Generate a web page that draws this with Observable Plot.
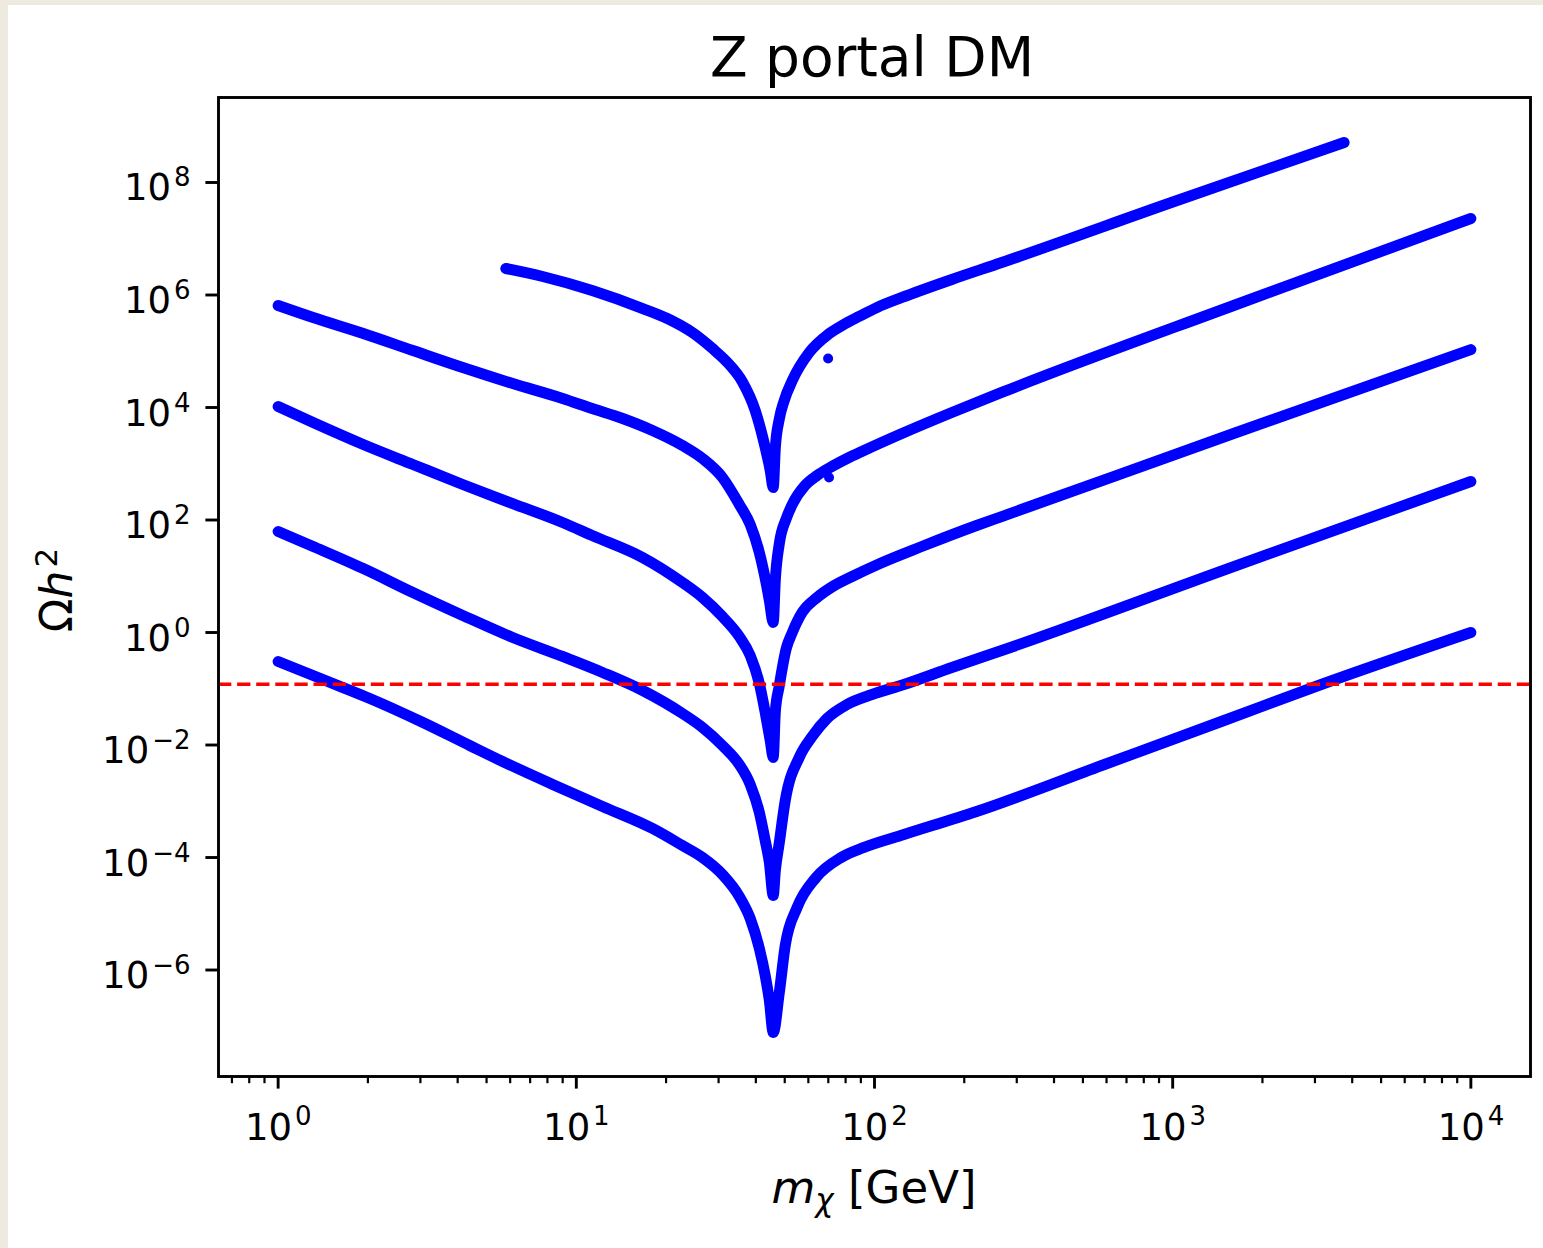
<!DOCTYPE html>
<html>
<head>
<meta charset="utf-8">
<script src="https://cdn.jsdelivr.net/npm/d3@7"></script>
<script src="https://cdn.jsdelivr.net/npm/@observablehq/plot@0.6"></script>
<style>
html, body { margin: 0; padding: 0; }
body { background: #eeeae0; width: 1543px; height: 1248px; overflow: hidden; position: relative; }
#fig { position: absolute; left: 8px; top: 5px; width: 1535px; height: 1243px; background: #ffffff; font-family: "DejaVu Sans", sans-serif; }
#title { position: absolute; left: 464px; width: 800px; top: 25px; text-align: center; font-size: 55px; line-height: 54px; color: #000; white-space: nowrap; }
#chart { position: absolute; left: 0; top: 85px; }
</style>
</head>
<body>
<div id="fig">
  <div id="title">Z portal DM</div>
  <div id="chart"></div>
</div>
<script>
// ---- Data (m_chi in GeV, Omega h^2) ----
const massA  = [5.80, 7.71, 11.3, 16.7, 20.2, 24.5, 28.6, 32.6, 36.0, 39.8, 43.0, 44.7, 45.75, 46.5, 47.9, 49.8, 53.0, 60.4, 69.9, 77.9, 88.8, 102, 123.6, 181.7, 267, 990, 3757];
const omegaA = [2.96e6, 2.13e6, 1.20e6, 5.75e5, 3.82e5, 2.15e5, 1.12e5, 5.81e4, 2.90e4, 8.85e3, 1.94e3, 759, 378, 1.94e3, 6.12e3, 1.33e4, 3.02e4, 9.50e4, 1.99e5, 2.87e5, 4.15e5, 6.00e5, 9.03e5, 1.89e6, 3.78e6, 4.41e7, 5.14e8];

const massB  = [1.00, 1.31, 1.93, 2.83, 4.16, 6.12, 8.99, 11.3, 14.3, 18.0, 22.7, 26.5, 30.9, 35.2, 38.3, 41.1, 43.0, 44.4, 45.75, 46.5, 47.9, 50.6, 53.0, 58.5, 64.2, 71.0, 80.9, 92.2, 123.6, 181.7, 267, 1635, 10000];
const omegaB = [6.51e5, 3.98e5, 2.07e5, 1.03e5, 5.14e4, 2.67e4, 1.45e4, 9.60e3, 6.37e3, 3.90e3, 2.11e3, 1.24e3, 570, 189, 83.2, 26.4, 9.12, 3.71, 1.51, 8.75, 36.7, 106, 189, 411, 618, 858, 1.24e3, 1.72e3, 3.45e3, 8.15e3, 1.85e4, 6.78e5, 2.29e7];

const massC  = [1.00, 1.31, 1.93, 2.83, 4.16, 6.12, 8.99, 11.3, 16.7, 22.7, 26.5, 30.9, 35.2, 38.3, 41.1, 43.0, 44.7, 45.75, 46.5, 47.9, 50.6, 53.0, 57.2, 64.2, 71.5, 84.1, 104.3, 144, 220, 267, 1635, 10000];
const omegaC = [1.04e4, 5.41e3, 2.20e3, 970, 428, 196, 90.3, 53.0, 21.5, 7.74, 4.19, 1.92, 0.849, 0.390, 0.124, 0.0378, 0.0120, 6.0e-3, 0.0394, 0.110, 0.520, 1.00, 2.27, 4.19, 6.31, 9.90, 16.9, 33.8, 79.8, 115, 3.59e3, 1.07e5];

const massD  = [1.00, 1.31, 1.93, 2.83, 4.16, 6.12, 8.99, 12.24, 16.7, 22.7, 26.5, 30.9, 35.2, 38.3, 41.1, 43.0, 44.4, 45.75, 46.5, 47.9, 50.2, 55.9, 61.8, 69.3, 80.9, 98.1, 125.5, 181.7, 267, 1635, 10000];
const omegaD = [62.5, 33.8, 13.7, 5.14, 2.01, 0.815, 0.375, 0.195, 0.0931, 0.0363, 0.0205, 9.80e-3, 4.50e-3, 1.99e-3, 6.31e-4, 2.00e-4, 8.15e-5, 2.11e-5, 5.87e-5, 1.77e-4, 1.03e-3, 6.00e-3, 0.0142, 0.0296, 0.0525, 0.0791, 0.119, 0.239, 0.479, 15.5, 483];

const massE  = [1.00, 1.31, 1.65, 2.03, 3.06, 4.39, 5.66, 8.33, 12.24, 18.0, 22.7, 26.5, 30.9, 35.2, 38.3, 41.1, 43.0, 44.4, 45.75, 47.9, 50.2, 55.0, 63.7, 77.3, 92.2, 125.5, 220, 578, 1456, 3148, 10000];
const omegaE = [0.305, 0.172, 0.105, 0.0671, 0.0251, 9.80e-3, 5.09e-3, 1.99e-3, 8.07e-4, 3.28e-4, 1.63e-4, 1.00e-4, 4.99e-5, 2.03e-5, 8.24e-6, 2.41e-6, 7.98e-7, 2.87e-7, 7.74e-8, 3.82e-7, 2.73e-6, 1.29e-5, 4.41e-5, 1.00e-4, 1.51e-4, 2.56e-4, 6.57e-4, 4.32e-3, 0.0262, 0.119, 1.00];

// isolated points off the curves
const strayMass  = [69.9, 70.4];
const strayOmega = [7.43e4, 570];

// observed relic density line
const relicDensity = 0.12;

// ticks
const xTicks = [1, 10, 100, 1000, 10000];
const xTickExponents = ["0", "1", "2", "3", "4"];
const xMinorTicks = [0.7, 0.8, 0.9, 2, 3, 4, 5, 6, 7, 8, 9, 20, 30, 40, 50, 60, 70, 80, 90,
  200, 300, 400, 500, 600, 700, 800, 900, 2000, 3000, 4000, 5000, 6000, 7000, 8000, 9000];
const yTicksPos = [1, 1e2, 1e4, 1e6, 1e8];
const yTicksPosExponents = ["0", "2", "4", "6", "8"];
const yTicksNeg = [1e-6, 1e-4, 1e-2];
const yTicksNegExponents = ["\u22126", "\u22124", "\u22122"];

// ---- build table ----
const curves = [
  {name: "A", mass: massA, omega: omegaA},
  {name: "B", mass: massB, omega: omegaB},
  {name: "C", mass: massC, omega: omegaC},
  {name: "D", mass: massD, omega: omegaD},
  {name: "E", mass: massE, omega: omegaE}
];
const rows = curves.flatMap(c => c.mass.map((m, i) => ({curve: c.name, m, omega: c.omega[i]})));
const strays = strayMass.map((m, i) => ({m, omega: strayOmega[i]}));

const blue = "#0000ff";
const baseSize = 37, expSize = 26;

const chart = Plot.plot({
  width: 1535,
  height: 1158,
  marginLeft: 210,
  marginRight: 13,
  marginTop: 7,
  marginBottom: 172,
  style: {background: "white", fontFamily: "DejaVu Sans", color: "black"},
  x: {type: "log", domain: [Math.pow(10, -0.2), Math.pow(10, 4.2)]},
  y: {type: "log", domain: [Math.pow(10, -7.893), Math.pow(10, 9.511)]},
  marks: [
    Plot.line(rows, {x: "m", y: "omega", z: "curve", stroke: blue, strokeWidth: 11,
      strokeLinecap: "round", strokeLinejoin: "round", curve: "monotone-x"}),
    Plot.dot(strays, {x: "m", y: "omega", r: 5, fill: blue, stroke: "none"}),
    Plot.ruleY([relicDensity], {stroke: "red", strokeWidth: 3.6, strokeDasharray: "13.3 5.8"}),
    Plot.frame({stroke: "black", strokeWidth: 2.9}),
    Plot.axisX(xTicks, {tickSize: 12.6, strokeWidth: 2.9, tickFormat: () => "", label: null}),
    Plot.axisX(xMinorTicks, {tickSize: 7.2, strokeWidth: 2.2, tickFormat: () => "", label: null}),
    Plot.axisY([...yTicksNeg, ...yTicksPos], {tickSize: 12.6, strokeWidth: 2.9, tickFormat: () => "", label: null}),
    // x tick labels: 10^k
    Plot.text(xTicks, {x: d => d, text: () => "10", frameAnchor: "bottom", lineAnchor: "bottom",
      textAnchor: "start", dx: -33.2, dy: 63, fontSize: baseSize}),
    Plot.text(xTicks, {x: d => d, text: (d, i) => xTickExponents[i], frameAnchor: "bottom", lineAnchor: "bottom",
      textAnchor: "start", dx: 16.8, dy: 48, fontSize: expSize}),
    // y tick labels (positive exponents)
    Plot.text(yTicksPos, {y: d => d, text: () => "10", frameAnchor: "left", lineAnchor: "bottom",
      textAnchor: "end", dx: -47.5, dy: 18, fontSize: baseSize}),
    Plot.text(yTicksPos, {y: d => d, text: (d, i) => yTicksPosExponents[i], frameAnchor: "left", lineAnchor: "bottom",
      textAnchor: "end", dx: -28, dy: 4, fontSize: expSize}),
    // y tick labels (negative exponents)
    Plot.text(yTicksNeg, {y: d => d, text: () => "10", frameAnchor: "left", lineAnchor: "bottom",
      textAnchor: "end", dx: -69.3, dy: 18, fontSize: baseSize}),
    Plot.text(yTicksNeg, {y: d => d, text: (d, i) => yTicksNegExponents[i], frameAnchor: "left", lineAnchor: "bottom",
      textAnchor: "end", dx: -28, dy: 4, fontSize: expSize})
  ]
});

document.getElementById("chart").appendChild(chart);

// ---- axis labels with math styling ----
const svg = d3.select(chart);
const xl = svg.append("text")
  .attr("x", 866).attr("y", 1113)
  .attr("text-anchor", "middle")
  .attr("font-family", "DejaVu Sans")
  .attr("font-size", 45)
  .attr("fill", "black");
xl.append("tspan").attr("font-style", "italic").text("m");
xl.append("tspan").attr("font-style", "italic").attr("font-size", 31).attr("dy", 8).text("\u03c7");
xl.append("tspan").attr("dy", -8).text(" [GeV]");

const yl = svg.append("text")
  .attr("transform", "translate(64,500) rotate(-90)")
  .attr("text-anchor", "middle")
  .attr("font-family", "DejaVu Sans")
  .attr("font-size", 44)
  .attr("fill", "black");
yl.append("tspan").text("\u03a9");
yl.append("tspan").attr("font-style", "italic").text("h");
yl.append("tspan").attr("font-size", 31).attr("dy", -15).attr("dx", 3).text("2");
</script>
</body>
</html>
